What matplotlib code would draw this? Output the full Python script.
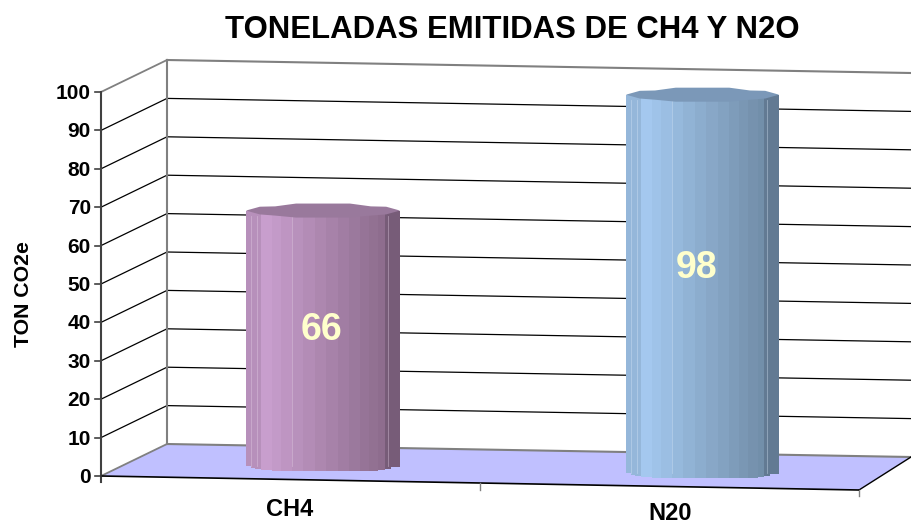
import numpy as np
import matplotlib
matplotlib.use("Agg")
import matplotlib.pyplot as plt
from matplotlib.colors import to_rgb

# --- data ---
categories = ["CH4", "N20"]
values = [66, 98]
y_ticks = [0, 10, 20, 30, 40, 50, 60, 70, 80, 90, 100]
title = "TONELADAS EMITIDAS DE CH4 Y N2O"
y_label = "TON CO2e"

plt.rcParams["font.family"] = ["Liberation Sans", "DejaVu Sans"]

# pixel layout of the fake 3D box
W, H = 911, 524
FRONT_X, FRONT_Y0 = 101, 476
BACK_X, BACK_Y0 = 167, 444
PX_PER_UNIT = 3.84
BACK_SLOPE = 13 / 744
FRONT_SLOPE = 14 / 758
FRONT_END_X = 859

fig = plt.figure(figsize=(W / 100, H / 100), dpi=100)
ax = fig.add_axes([0, 0, 1, 1])
ax.set_xlim(0, W)
ax.set_ylim(H, 0)
ax.axis("off")


def val_y(v):
    return FRONT_Y0 - v * PX_PER_UNIT


def back_y(x, y_at_back):
    return y_at_back + (x - BACK_X) * BACK_SLOPE


GREY = "#808080"

# floor
back_end = back_y(W, BACK_Y0)
front_end_y = FRONT_Y0 + (FRONT_END_X - FRONT_X) * FRONT_SLOPE
ax.fill([FRONT_X, BACK_X, W, FRONT_END_X],
        [FRONT_Y0, BACK_Y0, back_end, front_end_y],
        color="#C0C0FF", lw=0, zorder=1)

# gridlines on side wall and back wall
for t in y_ticks:
    y = val_y(t)
    yb = y - (FRONT_Y0 - BACK_Y0)
    is_edge = t in (0, 100)
    ax.plot([FRONT_X, BACK_X], [y, yb], color=GREY if is_edge else "black",
            lw=1.3 if is_edge else 0.9, zorder=2)
    ax.plot([BACK_X, W], [yb, back_y(W, yb)], color=GREY if is_edge else "black",
            lw=1.5 if is_edge else 0.9, zorder=2)

ax.plot([BACK_X, BACK_X], [val_y(100) - 32, BACK_Y0], color=GREY, lw=1.5, zorder=2)

# axis lines and ticks
ax.plot([FRONT_X, FRONT_X], [val_y(100), FRONT_Y0 + 6], color="#404040", lw=1.5, zorder=3)
ax.plot([FRONT_X, FRONT_END_X], [FRONT_Y0, front_end_y], color="black", lw=1.2, zorder=3)
ax.plot([FRONT_END_X, W], [front_end_y, back_end], color="black", lw=1.0, zorder=3)
ax.plot([FRONT_END_X, FRONT_END_X], [front_end_y, front_end_y + 6], color=GREY, lw=1.0, zorder=3)
ax.plot([480, 480], [483, 490], color=GREY, lw=1.0, zorder=3)
for t in y_ticks:
    ax.plot([FRONT_X - 6, FRONT_X], [val_y(t), val_y(t)], color="#404040", lw=1.2, zorder=3)
    ax.text(FRONT_X - 10, val_y(t) + 1.5, str(t), ha="right", va="center", fontsize=15,
            fontweight="bold", color="black", zorder=5)


def draw_cylinder(left, right, base_cy, value, light, dark, edge_dark, top_col, line_col):
    top_cy = base_cy - value * PX_PER_UNIT
    half_w = (right - left) / 2
    cx = (left + right) / 2
    ry = 7
    edges = np.array([0, .03, .06, .10, .17, .23, .30, .37, .45, .52, .60, .67, .74, .80, .86, .90, .94, 1.0])
    n = len(edges) - 1
    for i in range(n):
        x0, x1 = left + edges[i] * (right - left), left + edges[i + 1] * (right - left)
        mid = (edges[i] + edges[i + 1]) / 2
        if mid < .10:
            c = np.array(to_rgb(light)) * 0.9
        elif mid < .90:
            f = (mid - .10) / .80
            c = np.array(to_rgb(light)) * (1 - f) + np.array(to_rgb(dark)) * f
        else:
            c = np.array(to_rgb(edge_dark))
        u = (mid - .5) * 2
        off = ry * min(1.0, 1.25 * np.sqrt(max(0, 1 - u * u)))
        ax.fill([x0, x1, x1, x0], [top_cy, top_cy, base_cy + off, base_cy + off],
                color=c, lw=0, zorder=4)
    for frac in (.03, .07, .30, .92):
        x = left + frac * (right - left)
        ax.plot([x, x], [top_cy + 5, base_cy + 2], color=line_col, lw=0.6, alpha=0.45, zorder=4.1)
    # faceted top
    us = np.array([-1, -.82, -.62, -.35, .35, .62, .82, 1])
    up = np.array([0, .55, .6, 1, 1, .6, .55, 0]) * ry
    dn = np.array([0, .55, .72, 1, 1, .72, .55, 0]) * ry
    px = np.concatenate([cx + us * half_w, (cx + us * half_w)[::-1]])
    py = np.concatenate([top_cy - up, (top_cy + dn)[::-1]])
    ax.fill(px, py, color=top_col, lw=0, zorder=4.2)


draw_cylinder(246, 400, 464, values[0], "#CBA0D0", "#8C6C8C", "#775C78", "#99799C", "#E4CFE6")
draw_cylinder(626, 779, 471, values[1], "#A6CBF2", "#718DA8", "#627A93", "#7B98B8", "#D5E5F7")

# value labels
ax.text(322, 330, str(values[0]), ha="center", va="center", fontsize=27, fontweight="bold",
        color="#FFFFCC", zorder=6)
ax.text(697, 268, str(values[1]), ha="center", va="center", fontsize=27, fontweight="bold",
        color="#FFFFCC", zorder=6)

# texts
ax.text(290, 509, categories[0], ha="center", va="center", fontsize=17, fontweight="bold")
ax.text(670, 514, categories[1], ha="center", va="center", fontsize=17, fontweight="bold")
ax.text(512, 30, title, ha="center", va="center", fontsize=22.4, fontweight="bold")
ax.text(24, 294, y_label, ha="center", va="center", rotation=90, fontsize=15.3, fontweight="bold")

fig.savefig("out.png", dpi=100)
